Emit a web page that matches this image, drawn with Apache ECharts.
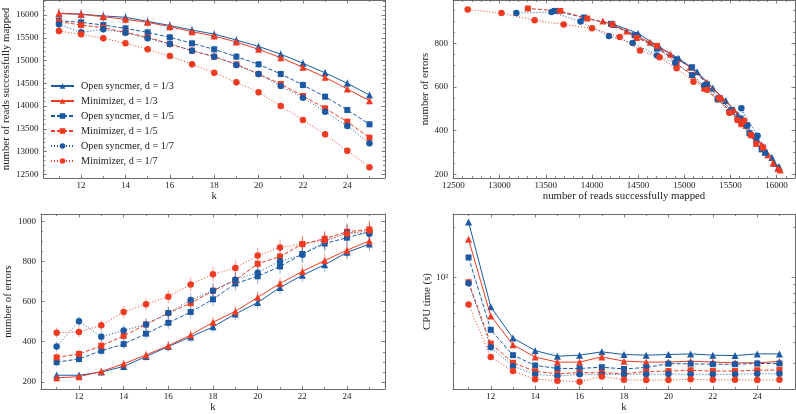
<!DOCTYPE html>
<html><head><meta charset="utf-8">
<script src="https://cdn.jsdelivr.net/npm/echarts@6/dist/echarts.min.js"></script>
<style>html,body{margin:0;padding:0;background:#fff}#c{width:796px;height:414px}</style>
</head><body><div id="c"></div>
<script>
// ---------------- data ----------------
const kValues = [11,12,13,14,15,16,17,18,19,20,21,22,23,24,25];
const seriesNames = ['Open syncmer, d = 1/3','Minimizer, d = 1/3','Open syncmer, d = 1/5','Minimizer, d = 1/5','Open syncmer, d = 1/7','Minimizer, d = 1/7'];

// number of reads successfully mapped
const readsOS3  = [16030,16020,15980,15950,15860,15770,15670,15580,15450,15310,15140,14940,14730,14500,14240];
const readsMin3 = [16040,16015,15963,15905,15839,15744,15634,15539,15407,15246,15063,14851,14631,14375,14118];
const readsOS5  = [15876,15839,15780,15707,15619,15510,15378,15246,15085,14917,14704,14463,14206,13913,13599];
const readsMin5 = [15854,15780,15722,15619,15510,15363,15217,15085,14917,14704,14485,14221,13950,13657,13306];
const readsOS7  = [15795,15619,15685,15612,15488,15363,15217,15085,14902,14704,14441,14184,13877,13562,13181];
const readsMin7 = [15649,15575,15488,15378,15246,15100,14917,14734,14521,14301,14001,13694,13379,13020,12654];
// error-bar half widths (reads)
const readsSdOS3  = [110,105,110,100,105,95,100,90,95,90,85,90,80,85,80];
const readsSdMin3 = [115,110,105,100,100,95,95,90,90,85,90,85,85,80,85];
const readsSdOS5  = [95,90,90,85,90,85,80,85,80,80,75,80,75,75,70];
const readsSdMin5 = [90,90,85,85,80,85,80,80,75,80,75,75,70,75,70];
const readsSdOS7  = [85,80,80,80,75,80,75,75,70,75,70,70,70,65,65];
const readsSdMin7 = [80,80,75,75,75,70,75,70,70,70,65,70,65,65,60];

// number of errors
const errOS3  = [233,233,249,277,326,376,424,474,538,595,670,731,783,845,886];
const errMin3 = [220,226,252,290,334,380,433,497,551,621,690,750,804,856,902];
const errOS5  = [298,314,355,388,440,494,548,611,690,726,775,837,889,918,948];
const errMin5 = [322,339,380,429,486,543,592,654,706,788,824,886,913,948,959];
const errOS7  = [376,502,425,456,486,543,608,654,709,744,801,833,899,943,938];
const errMin7 = [445,448,482,548,587,624,685,736,767,829,869,886,905,938,954];
// error-bar half widths (errors)
const errSdOS3  = [18,17,18,20,22,24,25,27,28,30,32,33,35,36,37];
const errSdMin3 = [19,18,19,21,23,25,27,28,30,31,33,34,36,37,38];
const errSdOS5  = [21,22,24,25,27,30,32,34,36,38,38,40,40,41,42];
const errSdMin5 = [22,23,25,27,28,31,33,35,37,38,39,40,41,42,42];
const errSdOS7  = [25,25,27,28,30,32,34,36,38,38,40,41,42,42,43];
const errSdMin7 = [26,27,28,30,31,33,35,37,38,40,41,41,42,43,43];

// CPU time (s)
const cpuOS3  = [2168,661,427,358,331,336,352,339,336,339,342,336,334,342,342];
const cpuMin3 = [1698,581,389,327,305,305,328,309,305,305,309,305,302,302,308];
const cpuOS5  = [1318,479,336,291,279,279,284,277,283,298,298,296,296,299,299];
const cpuMin5 = [933,395,302,268,259,263,263,259,267,269,272,269,269,272,273];
const cpuOS7  = [920,375,288,257,251,257,256,257,257,258,257,257,257,259,259];
const cpuMin7 = [682,327,269,240,235,232,249,238,237,237,240,238,238,237,238];

// tick labels
const kTicks = [12,14,16,18,20,22,24];
const readsTicks = [12500,13000,13500,14000,14500,15000,15500,16000];
const errTicksTop = [200,400,600,800];
const errTicksBottom = [200,400,600,800,1000];
const cpuTicks = [1000];

// ---------------- styling ----------------
const BLUE = '#1b5aa3', RED = '#ef3b22';
const FONT = 'Liberation Serif';
const FRAME = '#6a6a6a';
const TXT = '#222';
const styles = [
  {color: BLUE, symbol: 'triangle', type: 'solid', size: 7},
  {color: RED,  symbol: 'triangle', type: 'solid', size: 7},
  {color: BLUE, symbol: 'rect',     type: [4,2],   size: 6},
  {color: RED,  symbol: 'rect',     type: [4,2],   size: 6},
  {color: BLUE, symbol: 'circle',   type: [1,2],   size: 6.5},
  {color: RED,  symbol: 'circle',   type: [1,2],   size: 6.5}
];

function range(a, b, s) { const r = []; for (let v = a; v <= b + 1e-9; v += s) r.push(+v.toFixed(6)); return r; }

const xAxes = [], yAxes = [];
function addAxes(list, kind, grid, o) {
  const sides = kind === 'x' ? ['bottom', 'top'] : ['left', 'right'];
  const base = list.length;
  sides.forEach((pos, si) => {
    [true, false].forEach(major => {
      list.push({
        gridIndex: grid, type: o.type || 'value', logBase: 10, position: pos,
        min: o.min, max: o.max, offset: 0,
        axisLine: {show: major, onZero: false, lineStyle: {color: FRAME, width: 1}},
        axisTick: {show: true, inside: true, length: major ? 3.5 : 2,
                   customValues: major ? o.majors : o.minors,
                   lineStyle: {color: FRAME, width: 0.8}},
        axisLabel: {show: major && si === 0, customValues: o.majors,
                    formatter: o.fmt || (v => String(Math.round(v))),
                    fontFamily: FONT, fontSize: 9, color: TXT, margin: kind === 'x' ? 3 : 5},
        splitLine: {show: false}, minorTick: {show: false}, minorSplitLine: {show: false},
        name: (major && si === 0) ? o.name : '', nameLocation: 'middle', nameGap: o.nameGap,
        nameTextStyle: {fontFamily: FONT, fontSize: 10.8, color: TXT},
        silent: true, z: 5
      });
    });
  });
  return base;
}

const grids = [
  {left: 41,  top: 0,   width: 344, height: 178},
  {left: 453, top: 0,   width: 342, height: 178},
  {left: 41,  top: 214, width: 344, height: 178},
  {left: 453, top: 214, width: 342, height: 178}
];

const kAxis = {min: 10.3, max: 25.7, majors: kTicks, minors: range(11, 25, 1), name: 'k', nameGap: 12};
const x0 = addAxes(xAxes, 'x', 0, kAxis);
const y0 = addAxes(yAxes, 'y', 0, {min: 12419, max: 16330, majors: readsTicks, minors: range(12500, 16300, 100),
  name: 'number of reads successfully mapped', nameGap: 30});
const x1 = addAxes(xAxes, 'x', 1, {min: 12495, max: 16200, majors: readsTicks, minors: range(12500, 16200, 100),
  name: 'number of reads successfully mapped', nameGap: 12});
const y1 = addAxes(yAxes, 'y', 1, {min: 183, max: 998, majors: errTicksTop, minors: range(200, 950, 50),
  name: 'number of errors', nameGap: 20});
const x2 = addAxes(xAxes, 'x', 2, kAxis);
const y2 = addAxes(yAxes, 'y', 2, {min: 164, max: 1036, majors: errTicksBottom, minors: range(200, 1000, 50),
  name: 'number of errors', nameGap: 24});
const x3 = addAxes(xAxes, 'x', 3, kAxis);
const y3 = addAxes(yAxes, 'y', 3, {type: 'log', min: 209, max: 2421, majors: cpuTicks,
  minors: [300,400,500,600,700,800,900,2000],
  fmt: v => (Math.abs(v - 1000) < 1 ? '10³' : ''),
  name: 'CPU time (s)', nameGap: 20});

const readsAll = [readsOS3, readsMin3, readsOS5, readsMin5, readsOS7, readsMin7];
const readsSdAll = [readsSdOS3, readsSdMin3, readsSdOS5, readsSdMin5, readsSdOS7, readsSdMin7];
const errAll   = [errOS3, errMin3, errOS5, errMin5, errOS7, errMin7];
const errSdAll = [errSdOS3, errSdMin3, errSdOS5, errSdMin5, errSdOS7, errSdMin7];
const cpuAll   = [cpuOS3, cpuMin3, cpuOS5, cpuMin5, cpuOS7, cpuMin7];

function mk(i, xi, yi, data) {
  const s = styles[i];
  return {
    type: 'line', name: seriesNames[i], xAxisIndex: xi, yAxisIndex: yi, data: data,
    symbol: s.symbol, symbolSize: s.size, showSymbol: true,
    itemStyle: {color: s.color},
    lineStyle: {color: s.color, width: 1, type: s.type},
    emphasis: {disabled: true}, z: 10 + i, animation: false
  };
}
function errBars(i, xi, yi, data) {
  const s = styles[i];
  return {
    type: 'custom', xAxisIndex: xi, yAxisIndex: yi, data: data, silent: true, z: 9,
    renderItem: function (params, api) {
      const x = api.value(0), y = api.value(1), e = api.value(2);
      const p1 = api.coord([x, y - e]), p2 = api.coord([x, y + e]);
      return {type: 'line', shape: {x1: p1[0], y1: p1[1], x2: p2[0], y2: p2[1]},
              style: {stroke: s.color, lineWidth: 1, opacity: 0.45}};
    },
    animation: false
  };
}

const series = [];
for (let i = 0; i < 6; i++) {
  series.push(errBars(i, x0, y0, kValues.map((k, j) => [k, readsAll[i][j], readsSdAll[i][j]])));
  series.push(errBars(i, x2, y2, kValues.map((k, j) => [k, errAll[i][j], errSdAll[i][j]])));
}
for (let i = 0; i < 6; i++) {
  series.push(mk(i, x0, y0, kValues.map((k, j) => [k, readsAll[i][j]])));
  series.push(mk(i, x1, y1, kValues.map((k, j) => [readsAll[i][j], errAll[i][j]])));
  series.push(mk(i, x2, y2, kValues.map((k, j) => [k, errAll[i][j]])));
  series.push(mk(i, x3, y3, kValues.map((k, j) => [k, cpuAll[i][j]])));
}

const chart = echarts.init(document.getElementById('c'), null, {renderer: 'canvas'});
chart.setOption({
  animation: false,
  backgroundColor: '#fff',
  grid: grids,
  xAxis: xAxes,
  yAxis: yAxes,
  legend: {
    data: seriesNames, orient: 'vertical', left: 50, top: 79,
    itemWidth: 23, itemHeight: 7, itemGap: 1, padding: 0,
    textStyle: {fontFamily: FONT, fontSize: 10.2, color: TXT, lineHeight: 14, padding: [0,0,0,2]},
    selectedMode: false
  },
  series: series
});
</script>
</body></html>
